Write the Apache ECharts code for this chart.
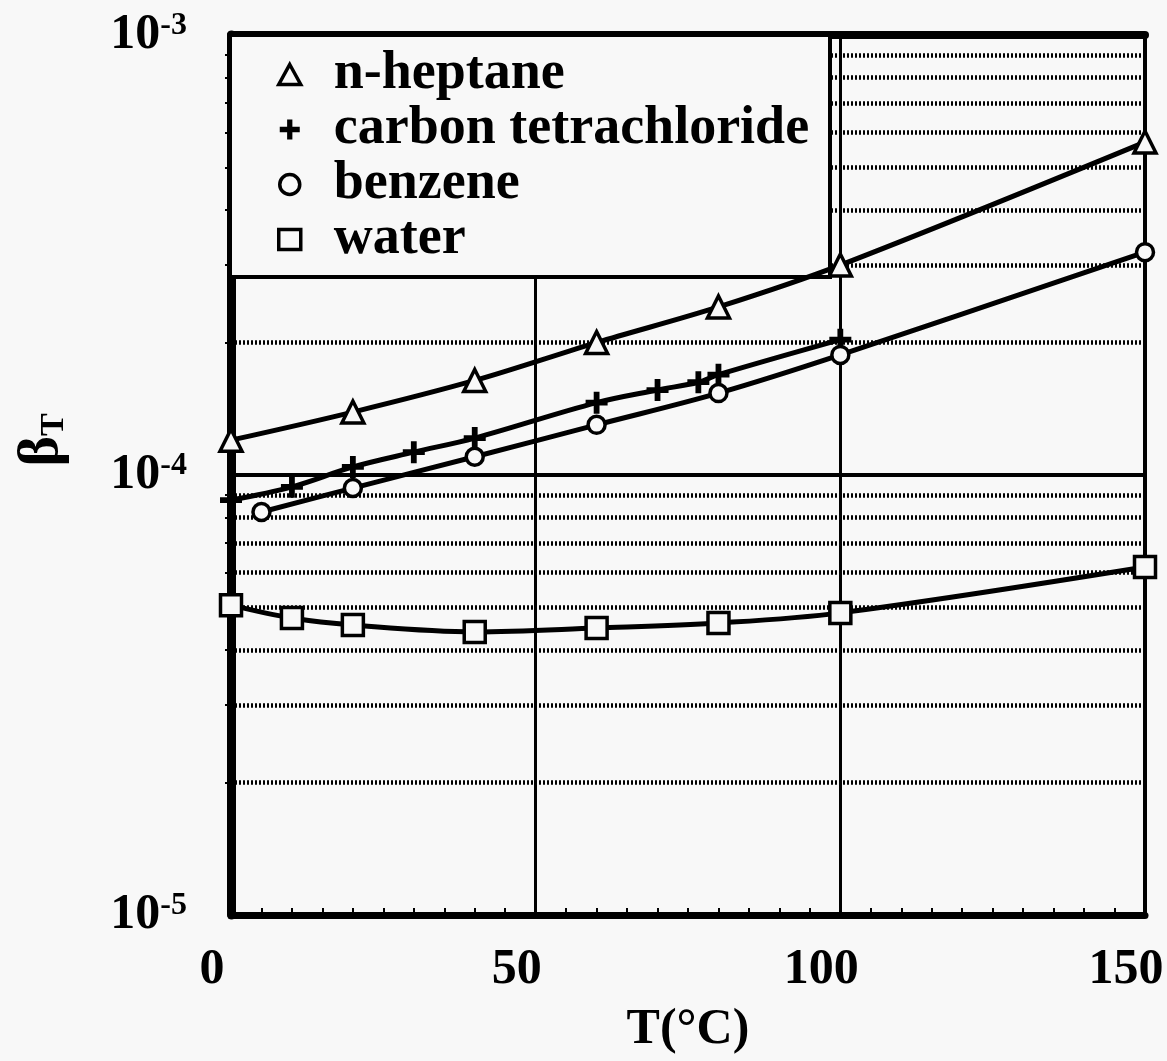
<!DOCTYPE html>
<html>
<head>
<meta charset="utf-8">
<script src="https://cdn.jsdelivr.net/npm/echarts@6/dist/echarts.min.js"></script>
<style>
html,body{margin:0;padding:0;background:#f8f8f8;}
#main{width:1167px;height:1061px;}
</style>
</head>
<body>
<div id="main"></div>
<script>
// isothermal compressibility beta_T vs temperature T(°C)
var heptaneT = [0, 20, 40, 60, 80, 100, 150];
var heptaneB = [1.20e-4, 1.39e-4, 1.64e-4, 2.00e-4, 2.41e-4, 3.00e-4, 5.71e-4];

var ccl4T = [0, 10, 20, 30, 40, 60, 70, 76.7, 80, 100];
var ccl4B = [8.77e-5, 9.40e-5, 1.043e-4, 1.127e-4, 1.213e-4, 1.46e-4, 1.56e-4, 1.625e-4, 1.69e-4, 2.03e-4];

var benzeneT = [5, 20, 40, 60, 80, 100, 150];
var benzeneB = [8.24e-5, 9.34e-5, 1.10e-4, 1.30e-4, 1.535e-4, 1.875e-4, 3.21e-4];

var waterT = [0, 10, 20, 40, 60, 80, 100, 150];
var waterB = [5.06e-5, 4.73e-5, 4.56e-5, 4.40e-5, 4.49e-5, 4.61e-5, 4.86e-5, 6.18e-5];

var names = ['n-heptane', 'carbon tetrachloride', 'benzene', 'water'];

var BG = '#f8f8f8';
var FONT = 'Liberation Serif';
var plusPath = 'path://M7,0H12V7H19V12H12V19H7V12H0V7H7Z';

function pairs(xs, ys) {
    return xs.map(function (x, i) { return [x, ys[i]]; });
}

function lineSeries(name, xs, ys, symbol, size, hollow) {
    return {
        name: name,
        type: 'line',
        smooth: 0.35,
        data: pairs(xs, ys),
        symbol: symbol,
        symbolSize: size,
        lineStyle: { color: '#000', width: 5 },
        itemStyle: hollow ? { color: BG, borderColor: '#000', borderWidth: 3.5 }
                          : { color: '#000', borderWidth: 0 },
        emphasis: { disabled: true },
        z: 3
    };
}

var chart = echarts.init(document.getElementById('main'));
var option = {
    backgroundColor: BG,
    animation: false,
    grid: {
        left: 231, right: 22, top: 35, bottom: 146,
        containLabel: false,
        outerBoundsMode: 'none',
        show: true, borderColor: '#000', borderWidth: 4, backgroundColor: 'transparent'
    },
    legend: {
        orient: 'vertical',
        left: 277, top: 47,
        padding: 0,
        itemGap: 0,
        itemWidth: 22, itemHeight: 20,
        selectedMode: false,
        z: 5,
        textStyle: {
            fontFamily: FONT, fontWeight: 'bold', fontSize: 54, color: '#000',
            lineHeight: 55, padding: [0, 0, 0, 28]
        },
        data: [
            { name: names[0], icon: 'triangle', itemStyle: { color: BG, borderColor: '#000', borderWidth: 3.5 } },
            { name: names[1], icon: plusPath, itemStyle: { color: '#000', borderWidth: 0 } },
            { name: names[2], icon: 'circle', itemStyle: { color: BG, borderColor: '#000', borderWidth: 3.5 } },
            { name: names[3], icon: 'rect', itemStyle: { color: BG, borderColor: '#000', borderWidth: 3.5 } }
        ]
    },
    graphic: [
        {
            type: 'rect', z: 1,
            shape: { x: 230, y: 35, width: 600, height: 242 },
            style: { fill: BG, stroke: '#000', lineWidth: 4 }
        },
        {
            type: 'text', z: 5,
            x: 42, y: 440,
            rotation: Math.PI / 2,
            style: {
                text: '{b|β}{s|T}',
                align: 'center', verticalAlign: 'middle',
                rich: {
                    b: { fontFamily: FONT, fontWeight: 'bold', fontSize: 58, lineHeight: 58, fill: '#000' },
                    s: { fontFamily: FONT, fontWeight: 'bold', fontSize: 34, lineHeight: 6, verticalAlign: 'bottom', fill: '#000' }
                }
            }
        }
    ],
    xAxis: [{
        type: 'value',
        min: 0, max: 150, interval: 50,
        name: 'T(°C)',
        nameLocation: 'middle',
        nameGap: 90,
        nameTextStyle: { fontFamily: FONT, fontWeight: 'bold', fontSize: 50, color: '#000' },
        axisLine: { lineStyle: { color: '#000', width: 7 } },
        axisTick: { inside: true, length: 10, lineStyle: { color: '#000', width: 2 } },
        minorTick: { show: true, splitNumber: 10, length: 7, lineStyle: { color: '#000', width: 2 } },
        axisLabel: {
            fontFamily: FONT, fontWeight: 'bold', fontSize: 50, color: '#000',
            margin: 30, padding: [0, 38, 0, 0]
        },
        splitLine: { show: true, lineStyle: { color: '#000', width: 3 } }
    }, {
        type: 'value', position: 'top',
        min: 0, max: 150, interval: 50,
        axisLine: { lineStyle: { color: '#000', width: 8 } },
        axisTick: { show: false },
        axisLabel: { show: false },
        splitLine: { show: false }
    }],
    yAxis: {
        type: 'log',
        logBase: 10,
        min: 1e-5, max: 1e-3,
        axisLine: { show: true, lineStyle: { color: '#000', width: 9 } },
        axisTick: { show: false },
        minorTick: { show: true, splitNumber: 9, length: 6, lineStyle: { color: '#000', width: 2 } },
        axisLabel: {
            margin: 44,
            formatter: function (v) {
                return '{a|10}{e|-' + Math.round(-Math.log10(v)) + '}';
            },
            rich: {
                a: { fontFamily: FONT, fontWeight: 'bold', fontSize: 50, lineHeight: 50, color: '#000' },
                e: { fontFamily: FONT, fontWeight: 'bold', fontSize: 32, lineHeight: 8, verticalAlign: 'top', color: '#000' }
            }
        },
        splitLine: { show: true, lineStyle: { color: '#000', width: 4 } },
        minorSplitLine: { show: true, lineStyle: { color: '#000', width: 4.5, type: [2, 2] } }
    },
    series: [
        lineSeries(names[0], heptaneT, heptaneB, 'triangle', 22, true),
        lineSeries(names[1], ccl4T, ccl4B, plusPath, 22, false),
        lineSeries(names[2], benzeneT, benzeneB, 'circle', 17, true),
        lineSeries(names[3], waterT, waterB, 'rect', 21, true)
    ]
};
chart.setOption(option);
</script>
</body>
</html>
